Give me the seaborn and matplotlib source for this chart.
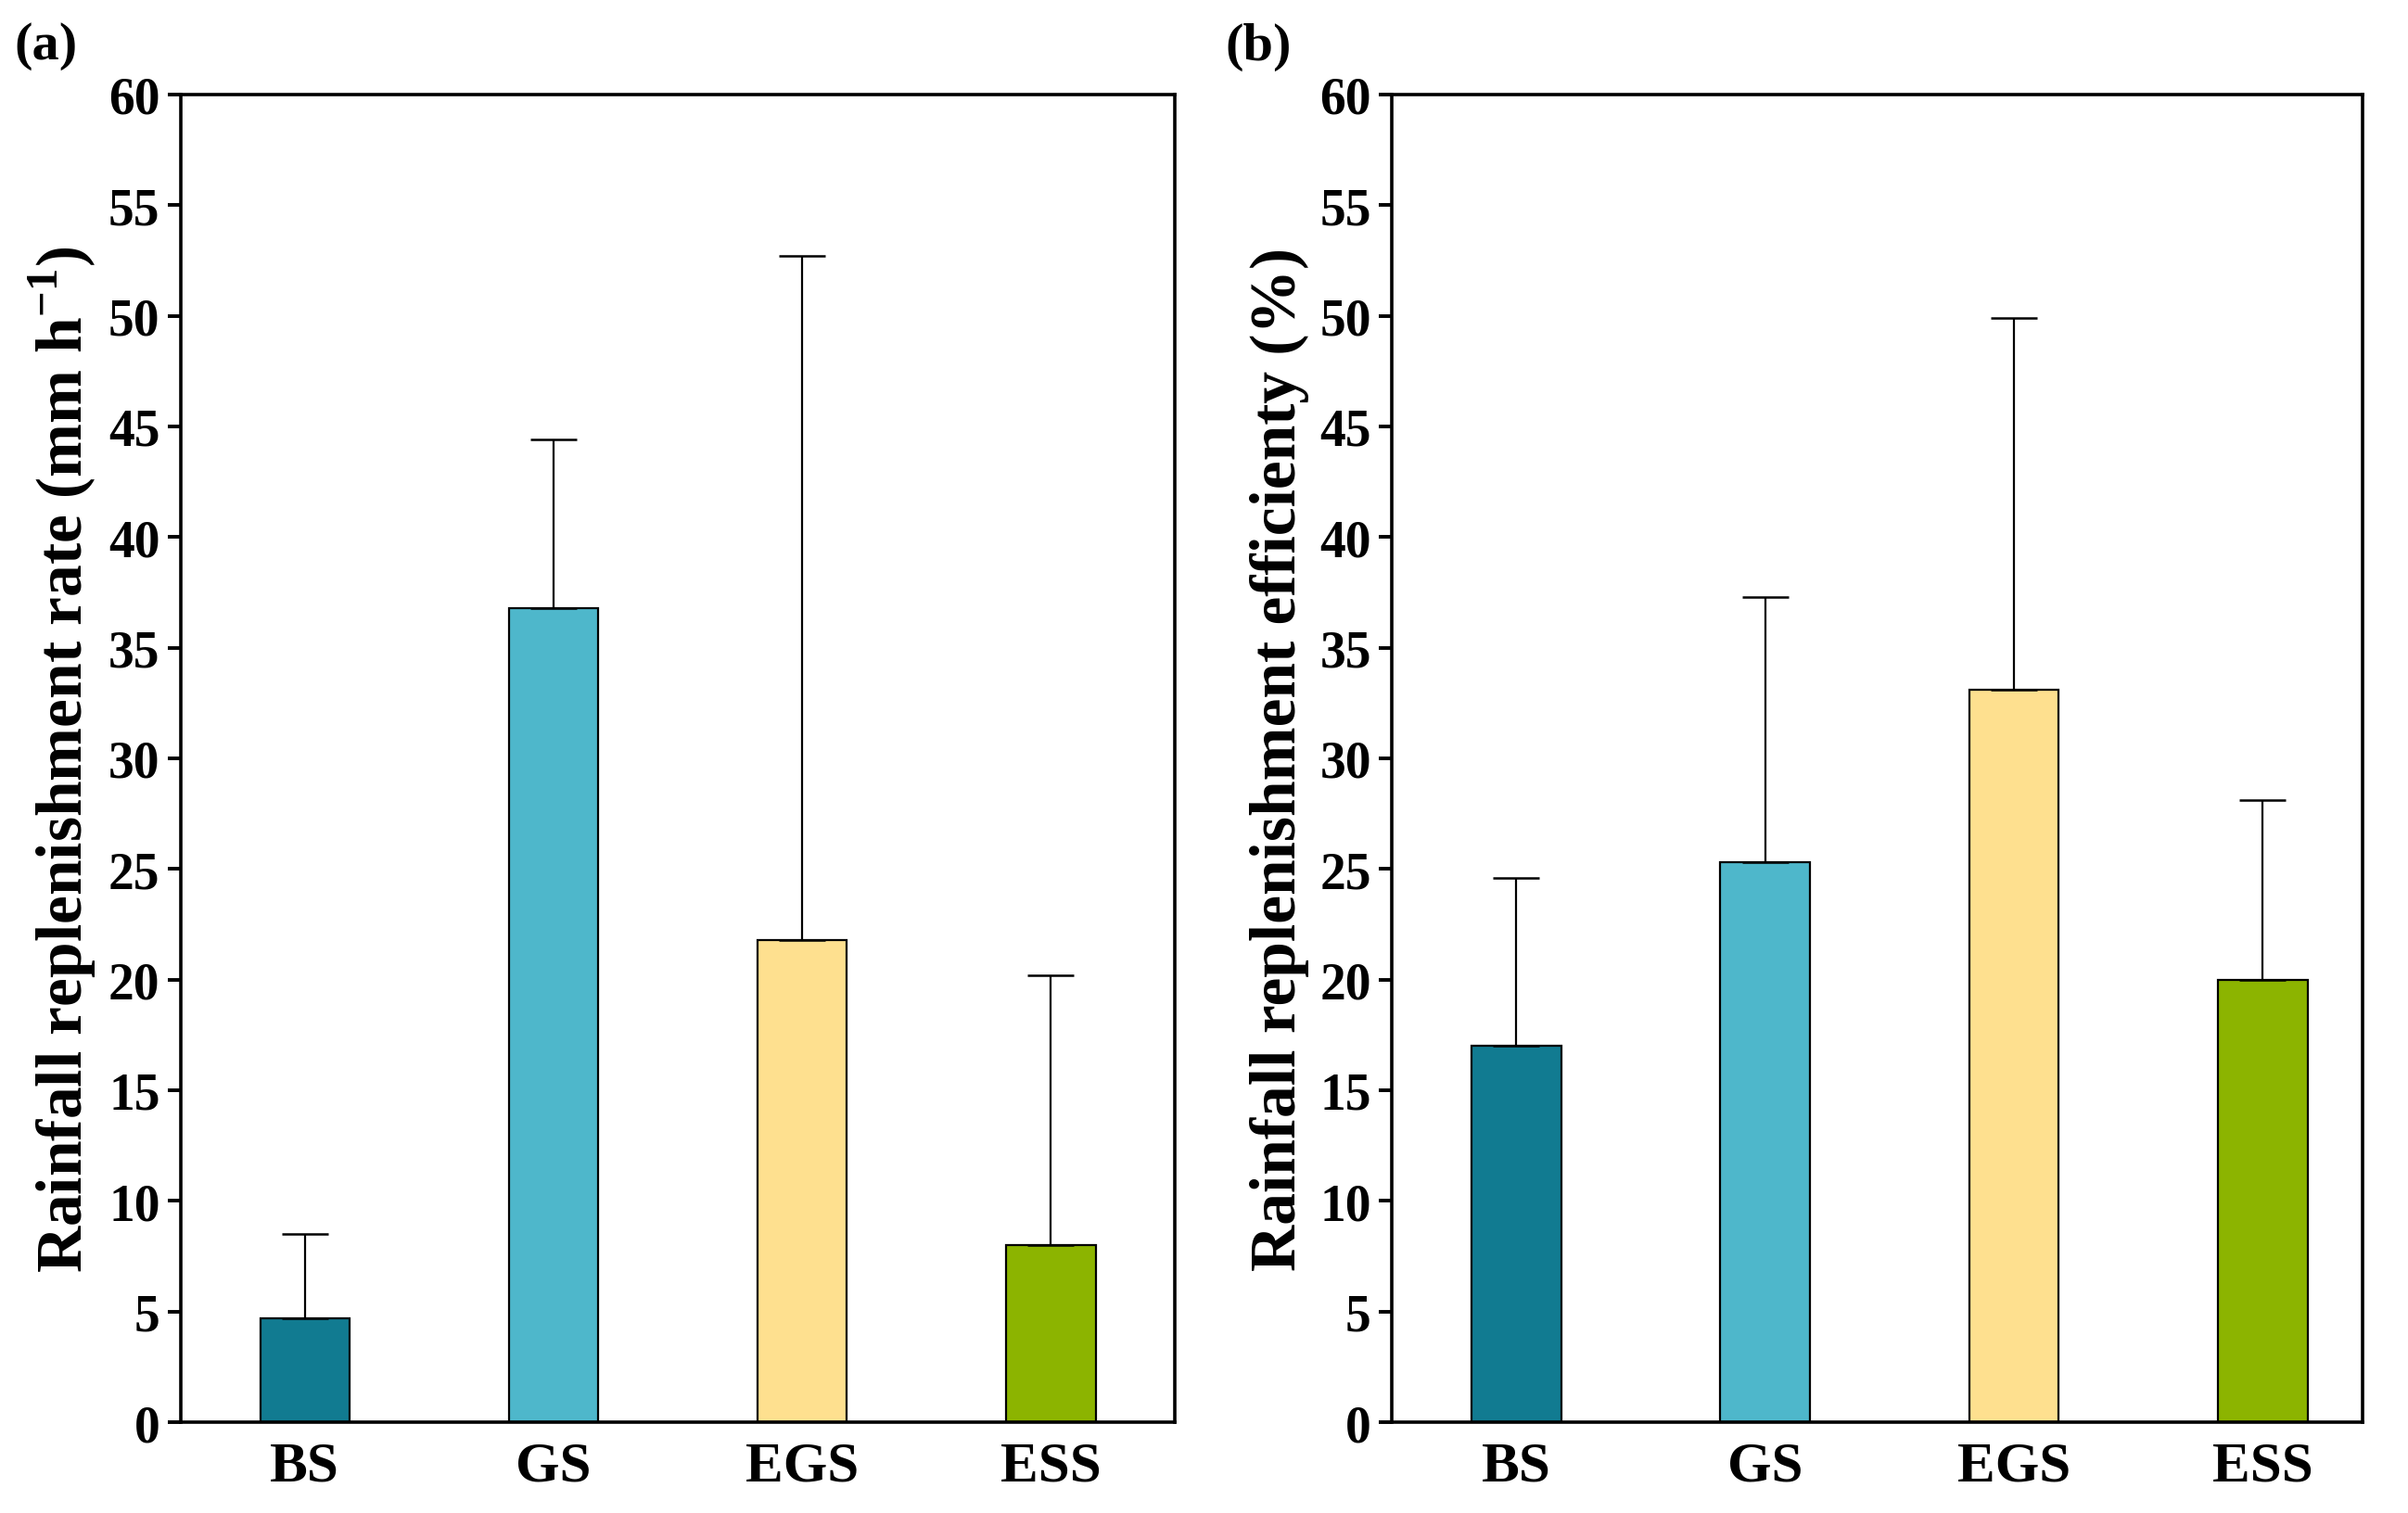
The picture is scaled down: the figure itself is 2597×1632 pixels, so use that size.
import numpy as np
import pandas as pd
import seaborn as sns
import matplotlib.pyplot as plt
import matplotlib.ticker as ticker

sns.set_theme(style="ticks")
plt.rcParams['font.family'] = ['Liberation Serif', 'DejaVu Serif']
plt.rcParams['font.weight'] = 'bold'
plt.rcParams['text.color'] = 'black'
plt.rcParams['axes.labelcolor'] = 'black'
plt.rcParams['xtick.color'] = 'black'
plt.rcParams['ytick.color'] = 'black'
plt.rcParams['mathtext.fontset'] = 'custom'
plt.rcParams['mathtext.rm'] = 'Liberation Serif:bold'
plt.rcParams['mathtext.bf'] = 'Liberation Serif:bold'

sites = ['BS', 'GS', 'EGS', 'ESS']
colors = ['#117B91', '#4EB7CB', '#FEE08F', '#8CB400']

rate_mean = [4.7, 36.8, 21.8, 8.0]
rate_err = [3.8, 7.6, 30.9, 12.2]

eff_mean = [17.0, 25.3, 33.1, 20.0]
eff_err = [7.6, 12.0, 16.8, 8.1]

panels = [
    ('(a)', rate_mean, rate_err, r'Rainfall replenishment rate (mm h$^{\mathbf{-1}}$)', 3.5),
    ('(b)', eff_mean, eff_err, 'Rainfall replenishment efficienty (%)', 3.4),
]

fig = plt.figure(figsize=(12.985, 8.165), dpi=200)
boxes = [[0.075, 0.06, 0.413, 0.877], [0.578, 0.06, 0.403, 0.877]]

for k, (tag, mean, err, ylab, xmax) in enumerate(panels):
    ax = fig.add_axes(boxes[k])
    df = pd.DataFrame({'site': sites, 'value': mean})
    sns.barplot(data=df, x='site', y='value', hue='site', palette=colors, saturation=1,
                width=0.36, edgecolor='black', linewidth=0.8, legend=False, ax=ax)
    ax.errorbar(np.arange(len(sites)), mean, yerr=[np.zeros(len(sites)), err],
                fmt='none', ecolor='black', elinewidth=0.8, capsize=9, capthick=0.9)
    ax.set_xlim(-0.5, xmax)
    ax.set_ylim(0, 60)
    ax.yaxis.set_major_locator(ticker.MultipleLocator(5))
    ax.set_xlabel('')
    ax.set_ylabel(ylab, fontsize=25, fontweight='bold', labelpad=4)
    ax.tick_params(axis='y', direction='out', length=5, width=1.4, labelsize=20, pad=3)
    ax.tick_params(axis='x', length=0, labelsize=22, pad=7)
    for lbl in ax.get_xticklabels() + ax.get_yticklabels():
        lbl.set_fontweight('bold')
    for s in ax.spines.values():
        s.set_visible(True)
        s.set_linewidth(1.3)
        s.set_color('black')
    fig.text(boxes[k][0] - 0.069, 0.985, tag, fontsize=21, fontweight='bold',
             va='top', ha='left')

plt.savefig('out.png', dpi=200)
